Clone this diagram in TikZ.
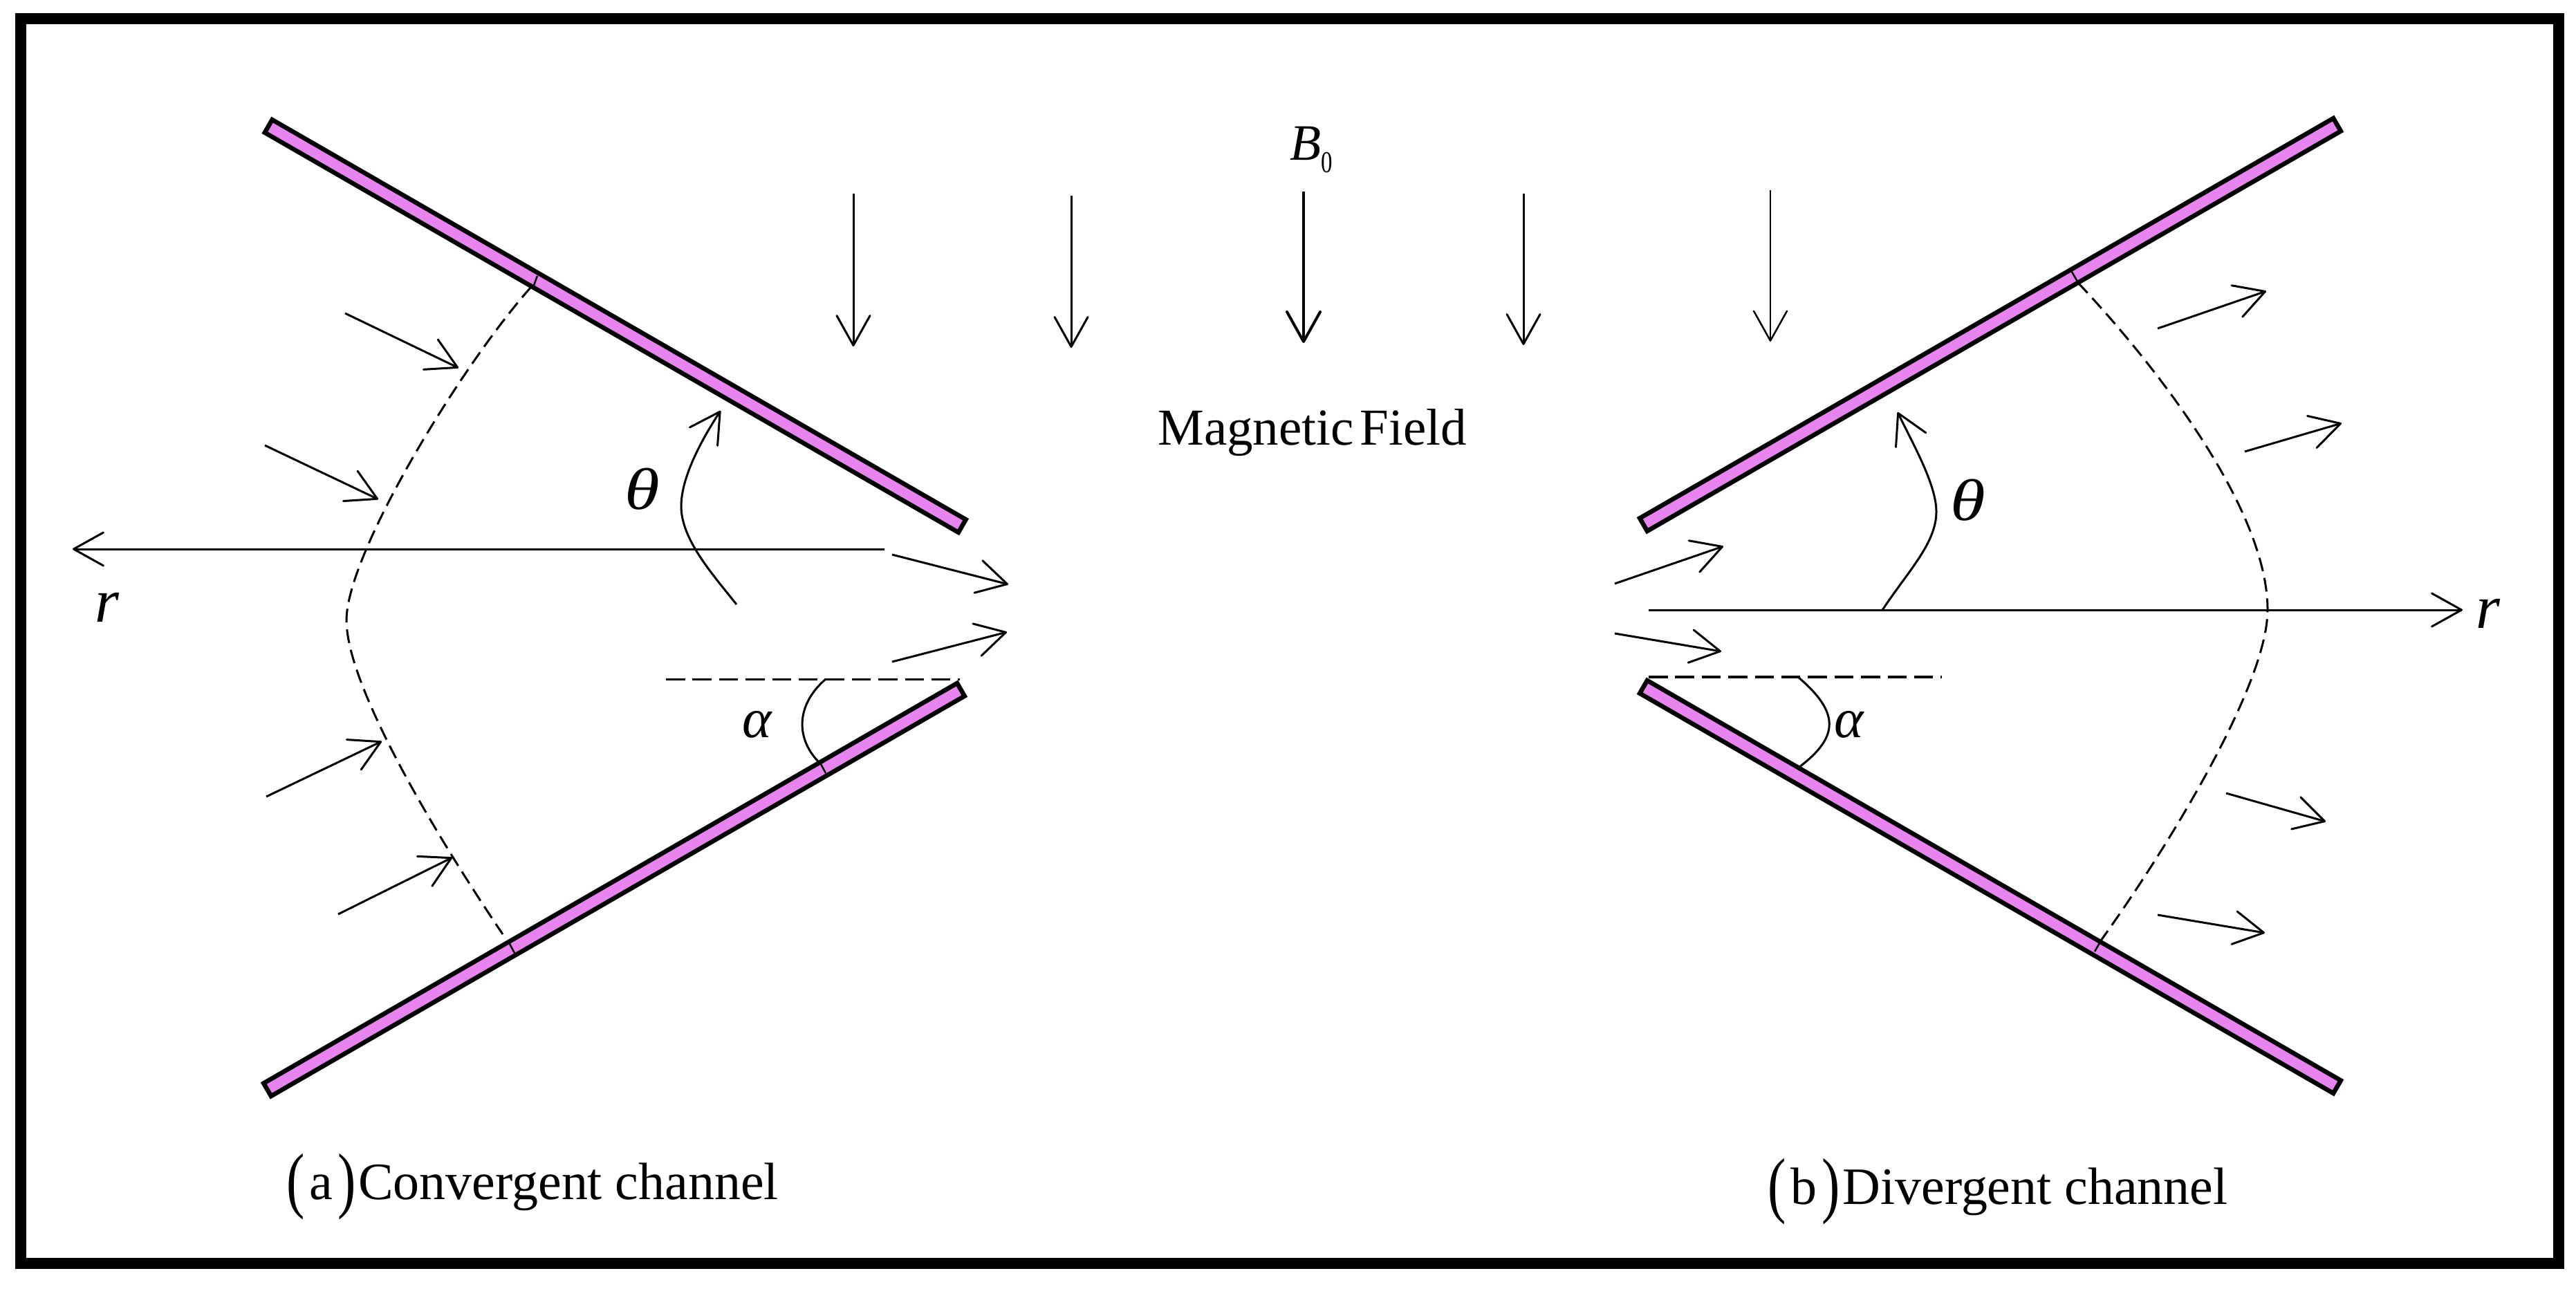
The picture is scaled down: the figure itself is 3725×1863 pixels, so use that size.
\documentclass[tikz,border=0pt]{standalone}
\usepackage{fontspec}
\setmainfont{Liberation Serif}
\usetikzlibrary{arrows.meta}
\definecolor{plum}{HTML}{E884F0}
\newcommand{\fsz}[1]{\fontsize{#1}{#1}\selectfont}
\newcommand{\tallp}[1]{\raisebox{-4pt}{\scalebox{.75}[1]{\fsz{60}#1}}}
\tikzset{
  plate/.style={draw=black,fill=plum,line width=.13cm,outer sep=0pt,minimum height=.43cm,minimum width=23.16cm,inner sep=0pt},
  thin line/.style={line width=.06cm,black},
  tick/.style={line width=.05cm,black},
  tip/.style={-{Straight Barb[length=.86cm,width=.96cm,round]}},
  flow/.style={thin line,tip},
  front/.style={thin line,dash pattern=on .4cm off .2cm},
  guide/.style={black,dash pattern=on .55cm off .218cm},
  txt/.style={inner sep=0pt,anchor=base west},
}
\begin{document}
\begin{tikzpicture}[x=.02cm,y=-.02cm]
\useasboundingbox (0,0) rectangle (3725,1863);
\fill[white] (0,0) rectangle (3725,1863);
\node[draw=black,line width=.32cm,outer sep=0pt,minimum width=73.4cm,minimum height=36cm,inner sep=0pt] (frame) at (1865,927) {};

% plates
\node[plate,rotate=-29.96] (ul) at (889.75,471.5) {};
\node[plate,rotate=29.98] (ll) at (888,1286.5) {};
\node[plate,rotate=29.97] (ur) at (2878,469.5) {};
\node[plate,rotate=-29.97] (lr) at (2878,1282.5) {};

% ticks on plates
\coordinate (t1a) at (777,399); \coordinate (t1b) at (770,418);
\coordinate (t2a) at (737,1365); \coordinate (t2b) at (744,1378);
\coordinate (t3a) at (1187,1105); \coordinate (t3b) at (1194,1118);
\coordinate (t4a) at (2996,393); \coordinate (t4b) at (3005,409);
\coordinate (t5a) at (3038,1360); \coordinate (t5b) at (3029,1376);
\foreach \i in {1,...,5} \draw[tick] (t\i a) -- (t\i b);

% flow fronts
\coordinate (f1a) at (768,415); \coordinate (f1m) at (501,897); \coordinate (f1b) at (727,1351);
\coordinate (f2a) at (3005,409); \coordinate (f2m) at (3279,882); \coordinate (f2b) at (3038,1360);
\draw[front] (f1a) .. controls (668,527) and (501,800) .. (f1m) .. controls (501,990) and (625,1200) .. (f1b);
\draw[front] (f2a) .. controls (3105,515) and (3279,730) .. (f2m) .. controls (3279,990) and (3135,1225) .. (f2b);

% guide lines
\coordinate (g1a) at (963,982.5); \coordinate (g1b) at (1388,982.5);
\coordinate (g2a) at (2384,979); \coordinate (g2b) at (2808,979);
\draw[guide,line width=.06cm] (g1a) -- (g1b);
\draw[guide,line width=.09cm] (g2a) -- (g2b);

% r axes
\coordinate (r1a) at (1279,794); \coordinate (r1b) at (105,794);
\coordinate (r2a) at (2384,882); \coordinate (r2b) at (3561,882);
\draw[flow] (r1a) -- (r1b);
\draw[flow] (r2a) -- (r2b);

% flow arrows
\foreach \n/\xa/\ya/\xb/\yb in {
  a/499/453/663/532, b/383/644/547/722, c/385/1152/552/1072, d/489/1322/654/1240,
  e/1290/802/1458/845, f/1290/957/1456/914,
  g/2335/844/2492/790, h/2335/916/2489/942,
  i/3120/475/3277/421, j/3246/653/3386/612, k/3219/1147/3363/1188, l/3120/1323/3275/1349}{
  \coordinate (\n s) at (\xa,\ya);
  \coordinate (\n e) at (\xb,\yb);
  \draw[flow] (\n s) -- (\n e);
}

% field arrows
\foreach \n/\x/\ya/\yb/\w in {m/1234/280/501/.06, n/1549/283/503/.06, o/1885/277/496/.08, p/2203/280/499/.06, q/2560/275/494/.05}{
  \coordinate (\n s) at (\x,\ya);
  \coordinate (\n e) at (\x,\yb);
  \draw[flow,line width=\w cm] (\n s) -- (\n e);
}

% angle arcs
\coordinate (c1a) at (1065,874); \coordinate (c1m) at (985,732); \coordinate (c1b) at (1042,594);
\coordinate (c2a) at (2722,882); \coordinate (c2m) at (2800,740); \coordinate (c2b) at (2744,596);
\coordinate (c3a) at (1194,982); \coordinate (c3b) at (1187,1105);
\coordinate (c4a) at (2600,979); \coordinate (c4b) at (2602,1109);
\draw[flow] (c1a) .. controls (1030,830) and (985,780) .. (c1m) .. controls (985,690) and (1015,635) .. (c1b);
\draw[flow] (c2a) .. controls (2760,825) and (2800,785) .. (c2m) .. controls (2800,700) and (2765,640) .. (c2b);
\draw[thin line] (c3a) .. controls (1150,1020) and (1150,1070) .. (c3b);
\draw[thin line] (c4a) .. controls (2660,1030) and (2660,1065) .. (c4b);

% labels
\node[txt] (thl) at (903,736) {\scalebox{1.15}[.95]{\fsz{51}\textit{θ}}};
\node[txt] (thr) at (2820,752) {\scalebox{1.15}[.95]{\fsz{51}\textit{θ}}};
\node[txt] (rl) at (137,899) {\fsz{51}\textit{r}};
\node[txt] (rr) at (3580,908) {\fsz{51}\textit{r}};
\node[txt] (al) at (1073,1066) {\fsz{46}\textit{α}};
\node[txt] (ar) at (2652,1066) {\fsz{46}\textit{α}};
\node[txt] (b0) at (1865,231) {\fsz{42}\textit{B}\raisebox{-10.8pt}{\scalebox{.75}[1]{\fsz{25}0}}};
\node[txt] (mf) at (1674,643) {\fsz{42.7}Magnetic\hspace{.12em}Field};
\node[txt] (ca) at (414,1734) {\fsz{43.2}\tallp{(}\hspace{4pt}a\hspace{4pt}\tallp{)}\hspace{2pt}Convergent channel};
\node[txt] (cb) at (2556,1741) {\fsz{43.2}\tallp{(}\hspace{4pt}b\hspace{4pt}\tallp{)}\hspace{2pt}Divergent channel};
\end{tikzpicture}
\end{document}
